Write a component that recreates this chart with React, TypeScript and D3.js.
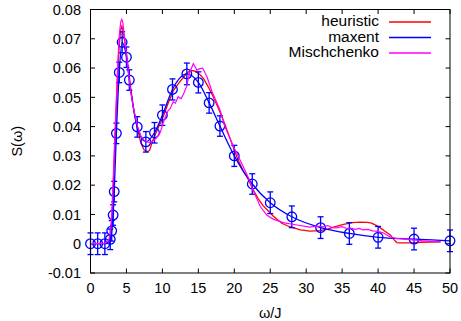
import React from "react";
import * as d3 from "d3";

const W = 461;
const H = 321;

const xTicks = [0, 5, 10, 15, 20, 25, 30, 35, 40, 45, 50];
const yTicks = [-0.01, 0, 0.01, 0.02, 0.03, 0.04, 0.05, 0.06, 0.07, 0.08];
const yTickLabels = ["-0.01", "0", "0.01", "0.02", "0.03", "0.04", "0.05", "0.06", "0.07", "0.08"];

const legendNames = ["heuristic", "maxent", "Mischchenko"];
const legendColors = ["#ff0000", "#0000ff", "#ff00ff"];

// maxent points with error bars
const maxentW = [0, 1, 2, 2.75, 2.95, 3.15, 3.3, 3.6, 4.0, 4.4, 5.0, 5.4, 6.5, 7.7, 8.9, 10.0, 11.4, 13.4, 15.0, 16.5, 18.0, 20.0, 22.5, 25.0, 28.0, 32.0, 36.0, 40.0, 45.0, 50.0];
const maxentS = [0, 0, 0, 0.0015, 0.0044, 0.0098, 0.0178, 0.0377, 0.0585, 0.0688, 0.0637, 0.0559, 0.0399, 0.0348, 0.0379, 0.0439, 0.0527, 0.058, 0.0551, 0.0481, 0.0402, 0.03, 0.0204, 0.014, 0.0092, 0.0055, 0.0035, 0.0022, 0.0016, 0.001];
const maxentErr = [0.0037, 0.0037, 0.0037, 0.0035, 0.0035, 0.0035, 0.0035, 0.0035, 0.0035, 0.0036, 0.0035, 0.0035, 0.0035, 0.0035, 0.0035, 0.0035, 0.0036, 0.0037, 0.0036, 0.0035, 0.0035, 0.0036, 0.0035, 0.0037, 0.0037, 0.0037, 0.0037, 0.0037, 0.0037, 0.0037];

// heuristic curve
const heurW = [0, 2.0, 2.5, 2.8, 3.0, 3.2, 3.4, 3.6, 3.8, 4.0, 4.2, 4.35, 4.5, 4.8, 5.2, 5.6, 6.0, 6.5, 7.0, 7.4, 7.8, 8.2, 8.7, 9.4, 10.1, 10.8, 11.5, 12.4, 13.4, 13.9, 14.5, 15.2, 15.7, 16.4, 17.1, 17.8, 18.5, 19.4, 20.3, 21.2, 21.9, 22.6, 23.3, 24.0, 25.4, 26.6, 27.7, 29.2, 30.5, 31.9, 33.0, 33.8, 35.2, 36.4, 37.5, 38.5, 39.1, 39.8, 40.3, 41.0, 41.7, 42.2, 42.6, 43.0, 45.0, 46.0, 48.7];
const heurS = [0, 0, 0.0005, 0.003, 0.01, 0.022, 0.035, 0.047, 0.059, 0.068, 0.073, 0.0742, 0.073, 0.0685, 0.061, 0.053, 0.046, 0.0395, 0.0345, 0.0322, 0.0314, 0.0318, 0.0355, 0.0395, 0.0433, 0.048, 0.0522, 0.0553, 0.0582, 0.0592, 0.059, 0.0578, 0.0565, 0.0535, 0.05, 0.0462, 0.042, 0.036, 0.03, 0.025, 0.0222, 0.0185, 0.0155, 0.013, 0.0095, 0.007, 0.0058, 0.0047, 0.0043, 0.0045, 0.005, 0.0057, 0.0066, 0.0072, 0.0074, 0.0073, 0.007, 0.0062, 0.0054, 0.0042, 0.003, 0.0014, 0.0004, 0.0003, 0.0003, 0.0005, 0.0006];

// Mischchenko curve
const mischW = [0, 1, 2, 2.5, 2.8, 3.0, 3.2, 3.4, 3.6, 3.8, 4.0, 4.2, 4.35, 4.5, 4.7, 5.0, 5.3, 5.6, 6.0, 6.5, 7.0, 7.6, 8.2, 8.7, 9.2, 9.7, 10.1, 10.5, 10.8, 11.1, 11.5, 11.8, 12.2, 12.6, 13.0, 13.4, 13.8, 14.3, 14.8, 15.2, 15.6, 16.2, 16.9, 17.3, 18.0, 18.7, 19.3, 19.9, 20.8, 21.9, 22.6, 23.6, 24.5, 25.4, 26.8, 28.7, 30.5, 31.5, 32.4, 33.0, 33.6, 34.2, 35.0, 35.6, 36.1, 36.8, 37.4, 37.9, 38.6, 39.2, 39.8, 40.6, 41.7, 42.5, 44.0, 46.3, 48.7];
const mischS = [0, 0, 0.0002, 0.0008, 0.004, 0.012, 0.025, 0.038, 0.05, 0.062, 0.071, 0.0758, 0.0766, 0.0755, 0.071, 0.065, 0.058, 0.052, 0.046, 0.0405, 0.0368, 0.0349, 0.0346, 0.0352, 0.0362, 0.038, 0.0412, 0.0438, 0.0455, 0.0462, 0.0485, 0.048, 0.0502, 0.0495, 0.0515, 0.054, 0.0585, 0.0615, 0.0593, 0.0598, 0.06, 0.057, 0.052, 0.0497, 0.0458, 0.04, 0.0365, 0.0331, 0.0286, 0.0229, 0.0183, 0.0128, 0.0098, 0.0084, 0.0072, 0.0064, 0.0057, 0.006, 0.0058, 0.0062, 0.0055, 0.0054, 0.0058, 0.0052, 0.0054, 0.0049, 0.0052, 0.0047, 0.0049, 0.0044, 0.0043, 0.0038, 0.0023, 0.0018, 0.0015, 0.001, 0.0006];

const FONT = "'Liberation Sans', Arial, Helvetica, sans-serif";

export default function App() {
  const left = 90.5;
  const right = 450;
  const top = 9.5;
  const bottom = 273;

  const x = d3.scaleLinear().domain([0, 50]).range([left, right]);
  const y = d3.scaleLinear().domain([-0.01, 0.08]).range([bottom, top]);

  const line = d3
    .line<[number, number]>()
    .x((d) => x(d[0]))
    .y((d) => y(d[1]));
  const smooth = d3
    .line<[number, number]>()
    .x((d) => x(d[0]))
    .y((d) => y(d[1]))
    .curve(d3.curveMonotoneX);

  const heur = heurW.map((w, i) => [w, heurS[i]] as [number, number]);
  const misch = mischW.map((w, i) => [w, mischS[i]] as [number, number]);
  const maxent = maxentW.map((w, i) => [w, maxentS[i]] as [number, number]);

  const tickLen = 4.5;
  const cap = 3;

  return (
    <svg
      width={W}
      height={H}
      style={{ position: "absolute", left: 0, top: 0, background: "#fff" }}
      fontFamily={FONT}
    >
      {/* ticks */}
      {xTicks.map((t) => (
        <g key={"xt" + t}>
          <line x1={x(t)} x2={x(t)} y1={bottom} y2={bottom - tickLen} stroke="#000" strokeWidth={1} />
          <line x1={x(t)} x2={x(t)} y1={top} y2={top + tickLen} stroke="#000" strokeWidth={1} />
          <text x={x(t)} y={293} textAnchor="middle" fontSize={14.5} fill="#000">
            {t}
          </text>
        </g>
      ))}
      {yTicks.map((t, i) => (
        <g key={"yt" + i}>
          <line x1={left} x2={left + tickLen} y1={y(t)} y2={y(t)} stroke="#000" strokeWidth={1} />
          <line x1={right} x2={right - tickLen} y1={y(t)} y2={y(t)} stroke="#000" strokeWidth={1} />
          <text x={81} y={y(t)} dy="0.36em" textAnchor="end" fontSize={14.5} fill="#000">
            {yTickLabels[i]}
          </text>
        </g>
      ))}

      {/* curves */}
      <path d={line(heur) || ""} fill="none" stroke={legendColors[0]} strokeWidth={1.3} />
      <path d={smooth(maxent) || ""} fill="none" stroke={legendColors[1]} strokeWidth={1.3} />
      {maxent.map((d, i) => (
        <g key={"p" + i} stroke={legendColors[1]} strokeWidth={1.3} fill="none">
          <line x1={x(d[0])} x2={x(d[0])} y1={y(d[1] - maxentErr[i])} y2={y(d[1] + maxentErr[i])} />
          <line x1={x(d[0]) - cap} x2={x(d[0]) + cap} y1={y(d[1] - maxentErr[i])} y2={y(d[1] - maxentErr[i])} />
          <line x1={x(d[0]) - cap} x2={x(d[0]) + cap} y1={y(d[1] + maxentErr[i])} y2={y(d[1] + maxentErr[i])} />
          <circle cx={x(d[0])} cy={y(d[1])} r={4.8} />
        </g>
      ))}
      <path d={line(misch) || ""} fill="none" stroke={legendColors[2]} strokeWidth={1.2} />

      {/* border */}
      <rect x={left} y={top} width={right - left} height={bottom - top} fill="none" stroke="#000" strokeWidth={1} />

      {/* legend */}
      {legendNames.map((n, i) => (
        <g key={"lg" + i}>
          <text x={379} y={26 + i * 15.5} textAnchor="end" fontSize={15.5} fill="#000">
            {n}
          </text>
          <line x1={389} x2={431} y1={22 + i * 15.5} y2={22 + i * 15.5} stroke={legendColors[i]} strokeWidth={1.3} />
        </g>
      ))}

      {/* axis labels */}
      <text x={(left + right) / 2} y={318} textAnchor="middle" fontSize={14.5} fill="#000">
        ω/J
      </text>
      <text
        transform={`translate(22, ${(top + bottom) / 2}) rotate(-90)`}
        textAnchor="middle"
        fontSize={14.5}
        fill="#000"
      >
        S(ω)
      </text>
    </svg>
  );
}
